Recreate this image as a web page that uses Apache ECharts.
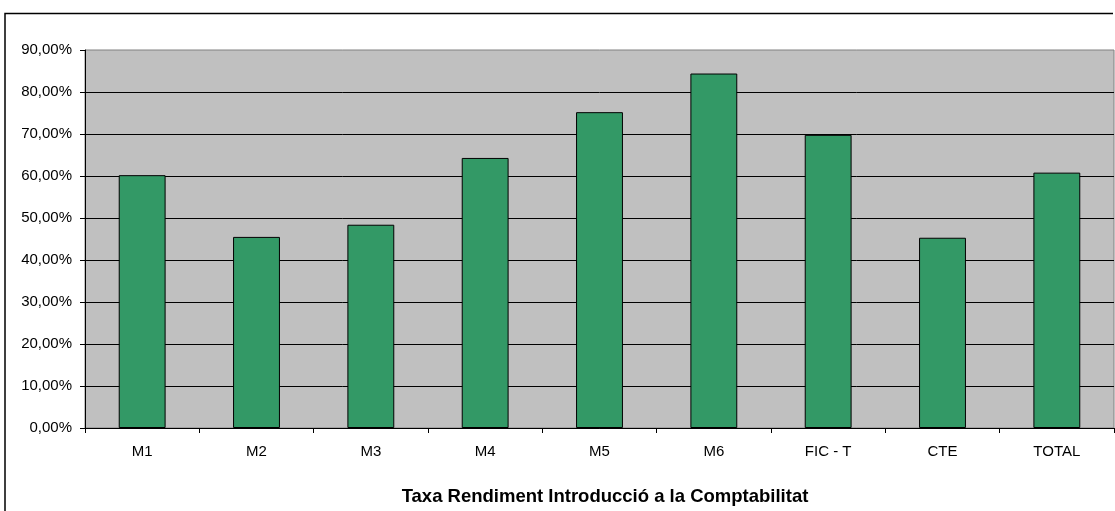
<!DOCTYPE html>
<html>
<head>
<meta charset="utf-8">
<script src="https://cdn.jsdelivr.net/npm/echarts@6/dist/echarts.min.js"></script>
<style>
    html, body { margin: 0; padding: 0; background: #fff; }
    #myChart { width: 1115px; height: 511px; }
</style>
</head>
<body>
<div id="myChart"></div>
<script>
    // categories and values (percent)
    var categories = ['M1', 'M2', 'M3', 'M4', 'M5', 'M6', 'FIC - T', 'CTE', 'TOTAL'];
    var taxaRendiment = [60.2, 45.5, 48.4, 64.3, 75.2, 84.4, 69.8, 45.3, 60.8];
    var chartTitle = 'Taxa Rendiment Introducció a la Comptabilitat';

    var myChart = echarts.init(document.getElementById('myChart'));

    var options = {
        animation: false,
        backgroundColor: '#ffffff',
        title: {
            text: chartTitle,
            left: 600,
            textAlign: 'center',
            top: 482,
            textStyle: {
                fontFamily: 'Liberation Sans, Arial, sans-serif',
                fontSize: 18.5,
                fontWeight: 'bold',
                color: '#000'
            }
        },
        graphic: [
            {
                type: 'polyline',
                shape: { points: [[5, 511], [5, 13.5], [1113, 13.5]] },
                style: { stroke: '#000', lineWidth: 1.5, fill: null },
                silent: true
            }
        ],
        grid: {
            left: 85,
            right: 1,
            top: 50,
            bottom: 83,
            show: true,
            backgroundColor: '#c0c0c0',
            borderColor: '#808080',
            borderWidth: 1
        },
        xAxis: {
            type: 'category',
            data: categories,
            axisLine: { show: true, lineStyle: { color: '#000', width: 1 } },
            axisTick: { show: true, alignWithLabel: false, length: 5, lineStyle: { color: '#000' } },
            axisLabel: {
                margin: 16,
                color: '#000',
                fontFamily: 'Liberation Sans, Arial, sans-serif',
                fontSize: 15
            }
        },
        yAxis: {
            type: 'value',
            min: 0,
            max: 90,
            interval: 10,
            axisLine: { show: true, lineStyle: { color: '#000', width: 1 } },
            axisTick: { show: true, length: 5, lineStyle: { color: '#000' } },
            splitLine: { show: true, showMaxLine: false, lineStyle: { color: '#000', width: 1 } },
            axisLabel: {
                margin: 13,
                color: '#000',
                fontFamily: 'Liberation Sans, Arial, sans-serif',
                fontSize: 15,
                formatter: function (v) {
                    return v.toFixed(2).replace('.', ',') + '%';
                }
            }
        },
        series: [
            {
                name: 'Taxa',
                type: 'bar',
                data: taxaRendiment,
                barWidth: '41%',
                itemStyle: {
                    color: '#339966',
                    borderColor: '#000',
                    borderWidth: 1
                }
            }
        ]
    };

    myChart.setOption(options);
</script>
</body>
</html>
